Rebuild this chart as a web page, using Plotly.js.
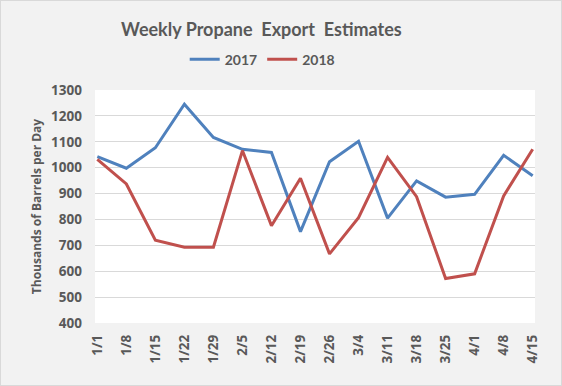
<!DOCTYPE html>
<html><head><meta charset="utf-8">
<script src="https://cdn.plot.ly/plotly-3.0.1.min.js"></script>
<style>html,body{margin:0;padding:0;background:#f2f2f2;}#chart{width:560px;height:384px;border:1px solid #d9d9d9;}</style>
</head><body><div id="chart"></div>
<script>
const weeks = ["1/1","1/8","1/15","1/22","1/29","2/5","2/12","2/19","2/26","3/4","3/11","3/18","3/25","4/1","4/8","4/15"];
const series2017 = [1043,998,1077,1245,1117,1071,1059,753,1023,1102,805,949,886,897,1048,969];
const series2018 = [1032,937,720,693,693,1066,776,959,667,807,1040,888,572,590,891,1071];
const textColor = "#595959";
const font = "Lato, 'Open Sans', sans-serif";
const smallFont = "'Open Sans', sans-serif";
const traces = [
  {x: weeks, y: series2017, type: "scatter", mode: "lines", name: "2017", line: {color: "#4f81bd", width: 3}},
  {x: weeks, y: series2018, type: "scatter", mode: "lines", name: "2018", line: {color: "#c0504d", width: 3}}
];
const layout = {
  width: 560, height: 384,
  paper_bgcolor: "#f2f2f2", plot_bgcolor: "#ffffff",
  margin: {l: 94, r: 26, t: 89, b: 62},
  font: {family: font, color: textColor},
  title: {text: "Weekly Propane  Export  Estimates", font: {size: 18, color: textColor, family: font, weight: 700}, x: 0.465, xanchor: "center", y: 0.925, yanchor: "middle"},
  showlegend: true,
  legend: {orientation: "h", x: 0.38, xanchor: "center", y: 1.13, yanchor: "middle", font: {size: 14, color: textColor, family: font, weight: 700}, bgcolor: "rgba(0,0,0,0)"},
  xaxis: {type: "category", range: [-0.08, 15.08], tickangle: -90, showgrid: false, showline: false, ticks: "", ticklabelstandoff: 8,
    tickfont: {size: 13.5, color: textColor, family: smallFont, weight: 700}, fixedrange: true},
  yaxis: {range: [400, 1300], dtick: 100, gridcolor: "#d9d9d9", gridwidth: 1, zeroline: false, showline: false, ticks: "", ticklabelstandoff: 12,
    tickfont: {size: 13.5, color: textColor, family: smallFont, weight: 700},
    title: {text: "Thousands of Barrels per Day", font: {size: 12, color: textColor, family: smallFont, weight: 700}, standoff: 6}}
};
Plotly.newPlot("chart", traces, layout, {displayModeBar: false, staticPlot: true});
</script></body></html>
